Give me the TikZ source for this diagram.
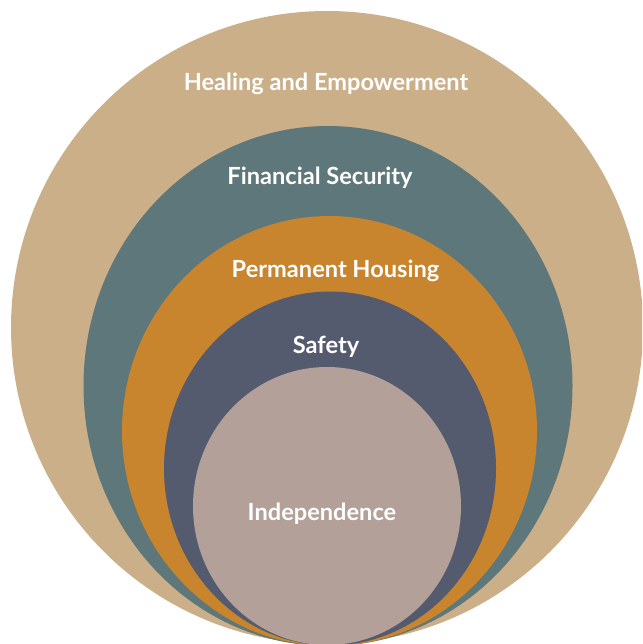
\documentclass[tikz,border=0pt]{standalone}
\usepackage{fontspec}
\setmainfont{Lato}
\definecolor{ctan}{HTML}{CBAF88}
\definecolor{cteal}{HTML}{5E777A}
\definecolor{corange}{HTML}{C9842E}
\definecolor{cnavy}{HTML}{555B6E}
\definecolor{cmauve}{HTML}{B3A098}
\begin{document}
\begin{tikzpicture}[x=1pt,y=-1pt,
  lbl/.style={text=white,font=\bfseries\fontsize{23.6}{28}\selectfont,inner sep=0pt,anchor=base}]
\useasboundingbox (0,0) rectangle (642,644);
\clip (0,0) rectangle (642,644);
\fill[ctan] (327,327.5) ellipse [x radius=316, y radius=316.5];
\fill[cteal] (328,386) ellipse [x radius=244.5, y radius=260];
\fill[corange] (329.5,431) ellipse [x radius=207.5, y radius=215];
\fill[cnavy] (330,468.5) ellipse [x radius=166, y radius=177];
\fill[cmauve] (327,506) ellipse [x radius=134, y radius=139];
\node[lbl] (heal) at (326,91) {Healing and Empowerment};
\node[lbl] (fin) at (320,185) {Financial Security};
\node[lbl] (perm) at (335.5,277) {Permanent Housing};
\node[lbl] (safe) at (326,353) {Safety};
\node[lbl] (ind) at (322,520) {Independence};
\end{tikzpicture}
\end{document}
